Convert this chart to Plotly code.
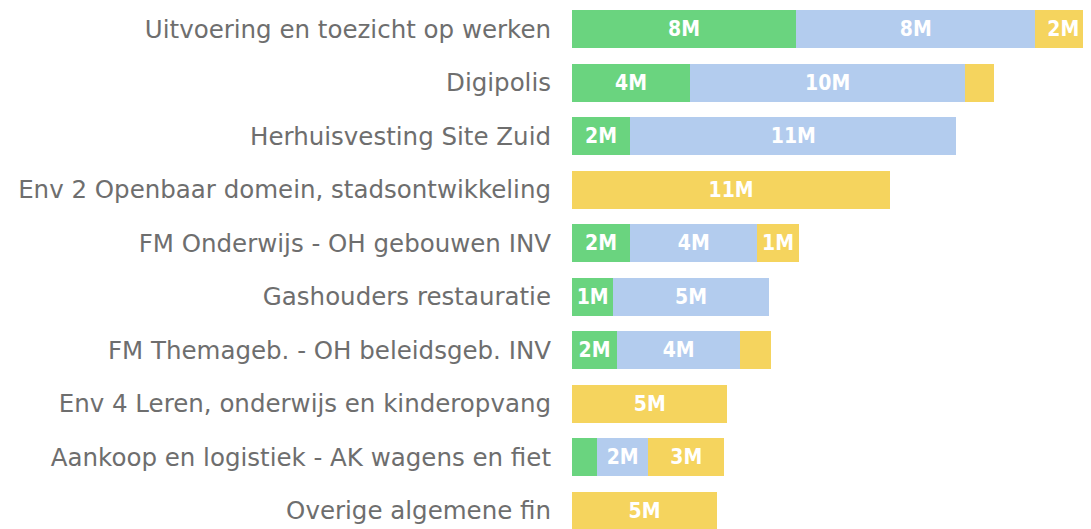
import plotly.graph_objects as go

categories = [
    "Uitvoering en toezicht op werken",
    "Digipolis",
    "Herhuisvesting Site Zuid",
    "Env 2 Openbaar domein, stadsontwikkeling",
    "FM Onderwijs - OH gebouwen INV",
    "Gashouders restauratie",
    "FM Themageb. - OH beleidsgeb. INV",
    "Env 4 Leren, onderwijs en kinderopvang",
    "Aankoop en logistiek - AK wagens en fiet",
    "Overige algemene fin",
]

# values in millions
green_vals = [7.86, 4.14, 2.04, 0, 2.04, 1.45, 1.58, 0, 0.88, 0]
blue_vals = [8.39, 9.65, 11.44, 0, 4.46, 5.45, 4.32, 0, 1.79, 0]
yellow_vals = [1.95, 1.02, 0, 11.16, 1.45, 0, 1.09, 5.45, 2.67, 5.09]

series = [
    ("Green", green_vals, "#6AD47F"),
    ("Blue", blue_vals, "#B3CCEE"),
    ("Yellow", yellow_vals, "#F5D45E"),
]


def labels(vals):
    return [f"{round(v)}M" if v >= 1.4 else "" for v in vals]


fig = go.Figure()
for name, vals, color in series:
    fig.add_trace(go.Bar(
        y=categories,
        x=vals,
        name=name,
        orientation="h",
        marker=dict(color=color, line=dict(width=0)),
        text=labels(vals),
        textposition="inside",
        insidetextanchor="middle",
        textangle=0,
        textfont=dict(family="DejaVu Sans Condensed", size=21, color="white", weight="bold"),
        cliponaxis=True,
    ))

fig.update_layout(
    barmode="stack",
    bargap=0.29,
    width=1091,
    height=529,
    margin=dict(l=564, r=0, t=0, b=0),
    paper_bgcolor="white",
    plot_bgcolor="white",
    showlegend=False,
    uniformtext=dict(mode=False),
    xaxis=dict(range=[0, 18.48], visible=False, fixedrange=True),
    yaxis=dict(
        type="category",
        range=[9.495, -0.393],
        showgrid=False,
        zeroline=False,
        showline=False,
        ticks="",
        ticklabelstandoff=20,
        tickfont=dict(family="DejaVu Sans", size=24.5, color="#6e6e6e"),
    ),
)

fig.write_html("out.html")
